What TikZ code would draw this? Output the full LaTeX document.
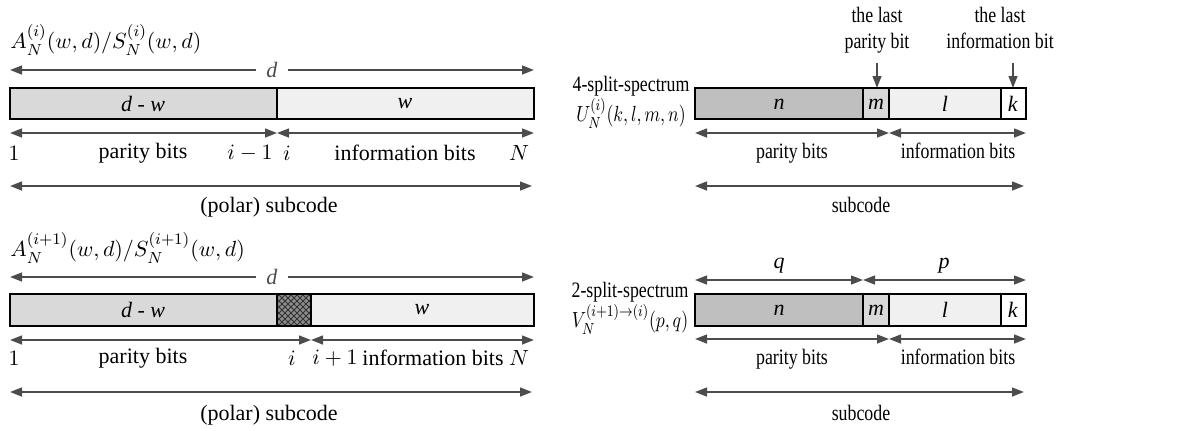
\documentclass[tikz,border=0pt]{standalone}
\usepackage{fontspec}
\usepackage{graphicx}
\setmainfont{Liberation Serif}
\usetikzlibrary{arrows.meta,patterns}

% the right-hand panels are set narrower
\newcommand{\narrowtext}[1]{\scalebox{0.81}[1]{\begin{tabular}{@{}c@{}}#1\end{tabular}}}

\tikzset{
  dim/.style={{Triangle[length=6pt,width=4.4pt]}-{Triangle[length=6pt,width=4.4pt]}, line width=1pt, black!70},
  pointer/.style={-{Triangle[length=6pt,width=4.4pt]}, line width=0.8pt, black!70},
  seg/.style={draw=black, line width=0.8pt},
}

\begin{document}
\begin{tikzpicture}[x=0.5pt, y=-0.5pt, font=\fontsize{11}{14.5}\selectfont]
\useasboundingbox (0,0) rectangle (1185,430);

% ---------- Upper left: spectrum at stage i ----------
\node[anchor=west, inner sep=0] (tA) at (10,40) {$A_N^{(i)}(w,d)/S_N^{(i)}(w,d)$};
\coordinate (dA1) at (10,70); \coordinate (dA2) at (534,70);
\draw[dim] (dA1) -- (dA2) node[midway, fill=white, inner xsep=5pt] (dA) {\textit{d}};

% bar
\fill[black!15] (10,88) rectangle (277,119);
\fill[black!6] (277,88) rectangle (534,119);
\draw[seg] (10,88) rectangle (534,119);
\draw[seg] (277,88) -- (277,119);
\node (dwA) at (143,104) {\textit{d - w}};
\node (wA) at (405,104) {\textit{w}};

% parity / information
\coordinate (pA1) at (10,133); \coordinate (pA2) at (277,133); \coordinate (pA3) at (534,133);
\draw[dim] (pA1) -- (pA2);
\draw[dim] (pA2) -- (pA3);
\node (oneA) at (14,153) {$1$};
\node (parA) at (143,153) {parity bits};
\node (imA) at (250,153) {$i-1$};
\node (iA) at (287,153) {$i$};
\node (infA) at (405,153) {information bits};
\node (NA) at (519,153) {$N$};

% subcode
\coordinate (sA1) at (10,186); \coordinate (sA2) at (532,186);
\draw[dim] (sA1) -- (sA2);
\node (subA) at (269,207) {(polar) subcode};

% ---------- Lower left: spectrum at stage i+1 ----------
\node[anchor=west, inner sep=0] (tB) at (10,248) {$A_N^{(i+1)}(w,d)/S_N^{(i+1)}(w,d)$};
\coordinate (dB1) at (10,277); \coordinate (dB2) at (534,277);
\draw[dim] (dB1) -- (dB2) node[midway, fill=white, inner xsep=5pt] (dB) {\textit{d}};

% bar, with the hatched bit i
\fill[black!15] (10,294) rectangle (277,326);
\fill[black!6] (311,294) rectangle (534,326);
\fill[black!45] (277,294) rectangle (311,326);
\fill[pattern=north east lines, pattern color=black!80] (277,294) rectangle (311,326);
\fill[pattern=north west lines, pattern color=black!80] (277,294) rectangle (311,326);
\draw[seg] (10,294) rectangle (534,326);
\draw[seg] (277,294) -- (277,326);
\draw[seg] (311,294) -- (311,326);
\node (dwB) at (143,310) {\textit{d - w}};
\node (wB) at (422,310) {\textit{w}};

% parity / information
\coordinate (pB1) at (10,340); \coordinate (pB2) at (311,340); \coordinate (pB3) at (534,340);
\draw[dim] (pB1) -- (pB2);
\draw[dim] (pB2) -- (pB3);
\node (oneB) at (14,358) {$1$};
\node (parB) at (143,358) {parity bits};
\node (iB) at (292,358) {$i$};
\node (ipB) at (335,358) {$i+1$};
\node (infB) at (433,358) {information bits};
\node (NB) at (519,358) {$N$};

% subcode
\coordinate (sB1) at (10,392); \coordinate (sB2) at (532,392);
\draw[dim] (sB1) -- (sB2);
\node (subB) at (269,415) {(polar) subcode};

% ---------- Upper right: 4-split spectrum ----------
\node[inner sep=0] (tC) at (631,101) {\narrowtext{4-split-spectrum\\[-1pt]$U_N^{(i)}(k,l,m,n)$}};
\node[inner sep=0] (lastP) at (877,30) {\narrowtext{the last\\[-1.5pt]parity bit}};
\node[inner sep=0] (lastI) at (1000,30) {\narrowtext{the last\\[-1.5pt]information bit}};
\coordinate (aP) at (877,88); \coordinate (aI) at (1013,88);
\draw[pointer] (lastP.south -| aP) ++(0,5) -- (aP);
\draw[pointer] (lastP.south -| aI) ++(0,5) -- (aI);

% bar
\fill[black!25] (695,88) rectangle (863,119);
\fill[black!15] (863,88) rectangle (889,119);
\fill[black!6] (889,88) rectangle (1001,119);
\draw[seg] (695,88) rectangle (1026,119);
\foreach \xx in {863,889,1001} \draw[seg] (\xx,88) -- (\xx,119);
\node (nC) at (779,104) {\textit{n}};
\node (mC) at (876,104) {\textit{m}};
\node (lC) at (945,104) {\textit{l}};
\node (kC) at (1013,104) {\textit{k}};

% parity / information
\coordinate (pC1) at (695,133); \coordinate (pC2) at (889,133); \coordinate (pC3) at (1026,133);
\draw[dim] (pC1) -- (pC2);
\draw[dim] (pC2) -- (pC3);
\node (parC) at (792,153) {\narrowtext{parity bits}};
\node (infC) at (958,153) {\narrowtext{information bits}};

% subcode
\coordinate (sC1) at (695,186); \coordinate (sC2) at (1024,186);
\draw[dim] (sC1) -- (sC2);
\node (subC) at (861,207) {\narrowtext{subcode}};

% ---------- Lower right: 2-split spectrum ----------
\node[inner sep=0] (tD) at (630,307) {\narrowtext{2-split-spectrum\\[-1pt]$V_N^{(i+1)\rightarrow(i)}(p,q)$}};
\coordinate (qD1) at (695,280); \coordinate (qD2) at (863,280); \coordinate (qD3) at (1026,280);
\draw[dim] (qD1) -- (qD2);
\draw[dim] (qD2) -- (qD3);
\node (qD) at (779,266) {\textit{q}};
\node (pD) at (944,266) {\textit{p}};

% bar
\fill[black!25] (695,294) rectangle (863,326);
\fill[black!15] (863,294) rectangle (889,326);
\fill[black!6] (889,294) rectangle (1001,326);
\draw[seg] (695,294) rectangle (1026,326);
\foreach \xx in {863,889,1001} \draw[seg] (\xx,294) -- (\xx,326);
\node (nD) at (779,310) {\textit{n}};
\node (mD) at (876,310) {\textit{m}};
\node (lD) at (945,310) {\textit{l}};
\node (kD) at (1013,310) {\textit{k}};

% parity / information
\coordinate (pD1) at (695,339); \coordinate (pD2) at (889,339); \coordinate (pD3) at (1026,339);
\draw[dim] (pD1) -- (pD2);
\draw[dim] (pD2) -- (pD3);
\node (parD) at (792,359) {\narrowtext{parity bits}};
\node (infD) at (958,359) {\narrowtext{information bits}};

% subcode
\coordinate (sD1) at (695,392); \coordinate (sD2) at (1024,392);
\draw[dim] (sD1) -- (sD2);
\node (subD) at (861,415) {\narrowtext{subcode}};

\end{tikzpicture}
\end{document}
